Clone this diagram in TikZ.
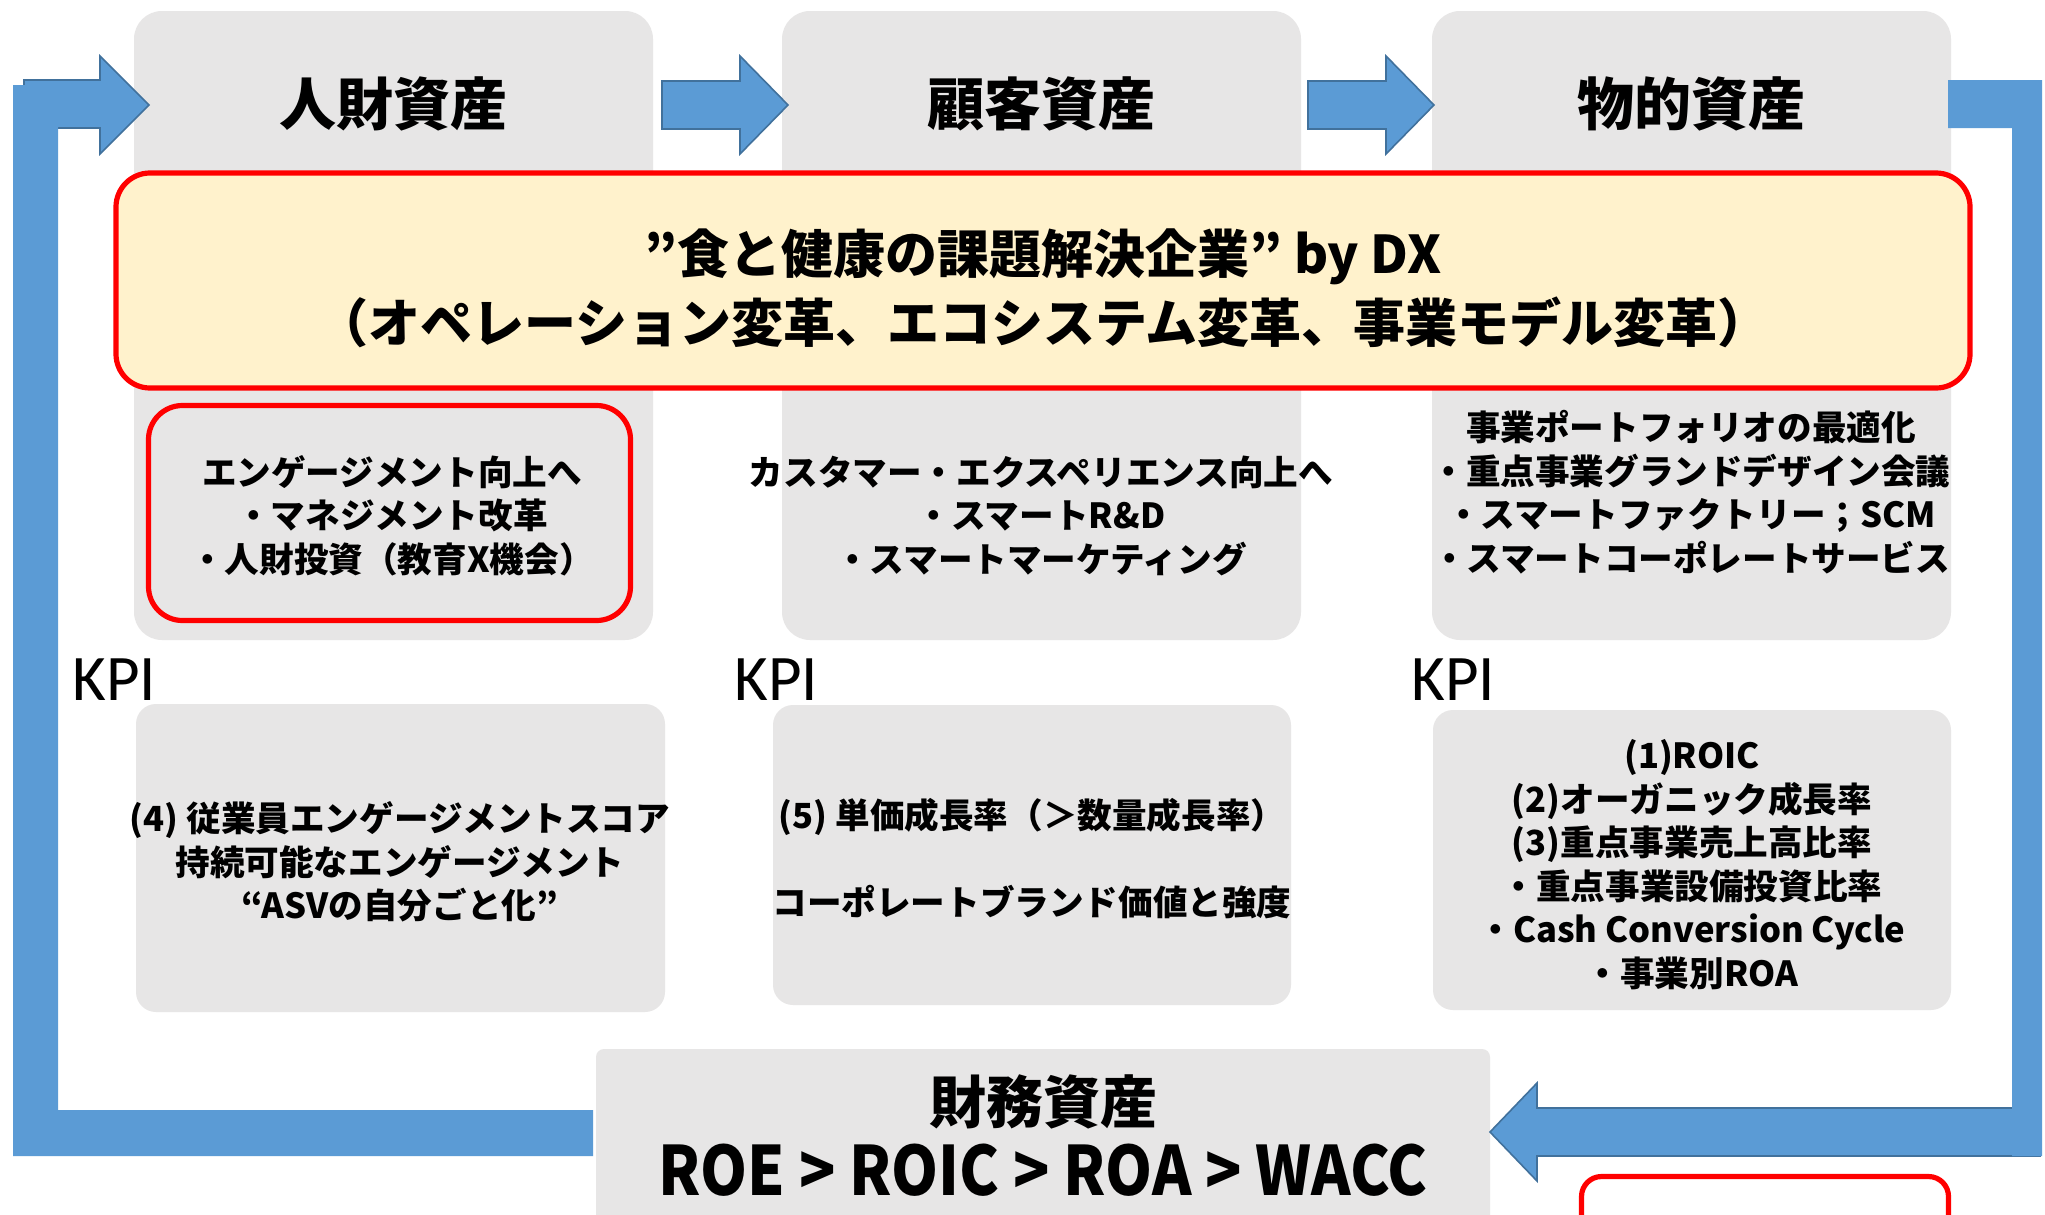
\documentclass[tikz,border=0pt]{standalone}
\usepackage{fontspec}
\setmainfont{Noto Sans CJK JP}
\newfontfamily\kpifont{Carlito}
\definecolor{boxgray}{HTML}{E7E6E6}
\definecolor{arrowblue}{HTML}{5B9BD5}
\definecolor{arrowline}{HTML}{41719C}
\definecolor{dxyellow}{HTML}{FFF2CC}
\definecolor{alertred}{HTML}{FF0000}
\begin{document}
\begin{tikzpicture}[x=0.5pt,y=-0.5pt,
  graybox/.style={fill=boxgray, draw=none, rounded corners=14pt, inner sep=0pt},
  kpibox/.style={fill=boxgray, draw=none, rounded corners=10pt, inner sep=0pt},
  flowarrow/.style={fill=arrowblue, draw=arrowline, line width=0.8pt, line join=miter},
  loopbar/.style={fill=arrowblue, draw=none},
  redframe/.style={draw=alertred, line width=2.6pt, rounded corners=17pt, inner sep=0pt},
  titletext/.style={font=\bfseries\fontsize{28.5}{34}\selectfont, inner sep=0pt},
  bodytext/.style={font=\bfseries\fontsize{17.3}{21.75}\selectfont, align=center, inner sep=0pt},
  kpilabel/.style={font=\kpifont\fontsize{32.5}{38}\selectfont, anchor=base west, inner sep=0pt},
]
\useasboundingbox (0,0) rectangle (2045,1215);
\clip (0,0) rectangle (2045,1215);
\fill[white] (0,0) rectangle (2045,1215);

% top gray columns
\node[graybox, minimum width=259.5pt, minimum height=314.5pt] (colA) at (393.5,325.5) {};
\node[graybox, minimum width=259.5pt, minimum height=314.5pt] (colB) at (1041.5,325.5) {};
\node[graybox, minimum width=259.5pt, minimum height=314.5pt] (colC) at (1691.5,325.5) {};

% lower KPI boxes
\node[kpibox, minimum width=264.5pt, minimum height=154pt] (kpiA) at (400.5,858) {};
\node[kpibox, minimum width=259pt, minimum height=150pt] (kpiB) at (1032,855) {};
\node[kpibox, minimum width=259pt, minimum height=150pt] (kpiC) at (1692,860) {};

% bottom financial box
\node[fill=boxgray, draw=none, rounded corners=4pt, minimum width=447pt, minimum height=105.5pt, inner sep=0pt] (fin) at (1043,1154.5) {};

% bottom red frame (cut off)
\node[redframe, fill=white, rounded corners=10pt, minimum width=183.5pt, minimum height=41.75pt] (redlow) at (1765,1218.25) {};

% loop arrows
\path[flowarrow] (24,80) -- (100,80) -- (100,56) -- (149,105) -- (100,154) -- (100,128) -- (24,128) -- cycle;
\path[loopbar] (13,85) -- (58,85) -- (58,1110) -- (593,1110) -- (593,1156) -- (13,1156) -- cycle;
\path[flowarrow] (2040,1108) -- (1537,1108) -- (1537,1083) -- (1490,1132) -- (1537,1181) -- (1537,1156) -- (2040,1156) -- cycle;
\path[loopbar] (1948,80) -- (2042,80) -- (2042,1156) -- (2012,1156) -- (2012,128) -- (1948,128) -- cycle;

% top flow arrows
\path[flowarrow] (662,81) -- (740,81) -- (740,56) -- (788,105) -- (740,154) -- (740,129) -- (662,129) -- cycle;
\path[flowarrow] (1308,81) -- (1386,81) -- (1386,56) -- (1434,105) -- (1386,154) -- (1386,129) -- (1308,129) -- cycle;

% yellow DX box
\node[redframe, fill=dxyellow, rounded corners=17pt, minimum width=927pt, minimum height=107.5pt] (dx) at (1043,280.5) {};
% red frame inside first column
\node[redframe, minimum width=241pt, minimum height=107.5pt] (hrframe) at (389.5,513) {};

% titles
\node[titletext] (tA) at (393,104) {人財資産};
\node[titletext] (tB) at (1041,104) {顧客資産};
\node[titletext] (tC) at (1691,104) {物的資産};

% DX text
\node[font=\bfseries\fontsize{26}{34.5}\selectfont, align=center, inner sep=0pt] (dxtext) at (1043,288.5) {”食と健康の課題解決企業” by DX\\（オペレーション変革、エコシステム変革、事業モデル変革）};

% column texts
\node[bodytext] (txA) at (392,515.5) {エンゲージメント向上へ\\・マネジメント改革\\・人財投資（教育X機会）};
\node[bodytext] (txB) at (1041,515.5) {カスタマー・エクスペリエンス向上へ\\・スマートR\&D\\・スマートマーケティング};
\node[bodytext] (txC) at (1691,492) {事業ポートフォリオの最適化\\・重点事業グランドデザイン会議\\・スマートファクトリー；SCM\\・スマートコーポレートサービス};

% KPI labels
\node[kpilabel] (kA) at (72,700) {KPI};
\node[kpilabel] (kB) at (734,700) {KPI};
\node[kpilabel] (kC) at (1411,700) {KPI};

% KPI texts
\node[bodytext] (kxA) at (400,862) {(4) 従業員エンゲージメントスコア\\持続可能なエンゲージメント\\“ASVの自分ごと化”};
\node[bodytext] (kxB) at (1032,859) {(5) 単価成長率（＞数量成長率）\\[21.75pt]コーポレートブランド価値と強度};
\node[bodytext] (kxC) at (1692,864.5) {(1)ROIC\\(2)オーガニック成長率\\(3)重点事業売上高比率\\・重点事業設備投資比率\\・Cash Conversion Cycle\\・事業別ROA};

% financial text
\node[titletext] (finA) at (1043,1102) {財務資産};
\node[font=\bfseries\fontsize{34}{40}\selectfont, inner sep=0pt] (finB) at (1043,1170) {\scalebox{0.88}[1]{ROE > ROIC > ROA > WACC}};
\end{tikzpicture}
\end{document}
